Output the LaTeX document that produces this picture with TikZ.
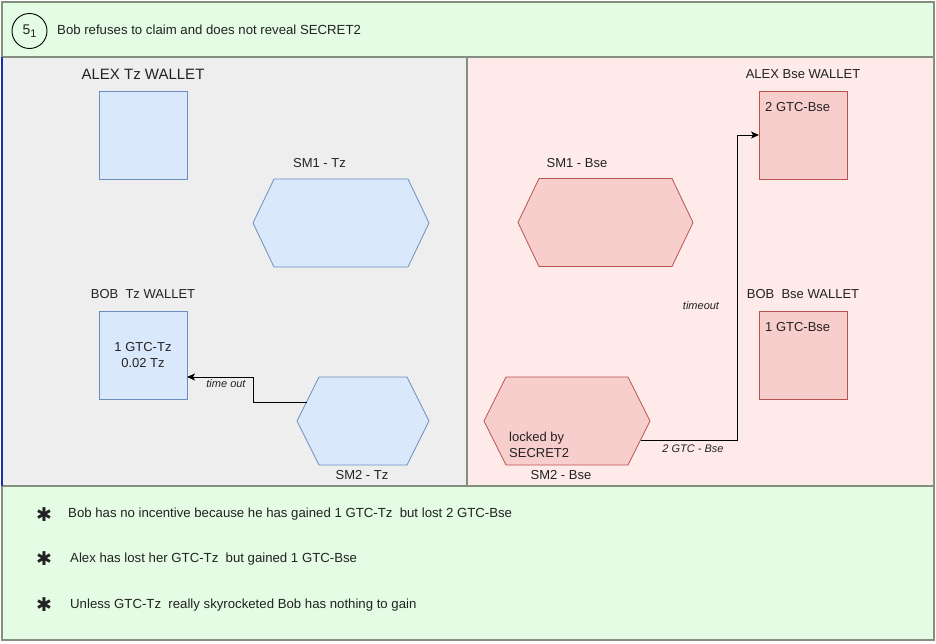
\documentclass[tikz,border=0pt]{standalone}
\usepackage{fontspec}
\setmainfont{Liberation Sans}
\newfontfamily\djv{DejaVu Sans}
\usetikzlibrary{arrows.meta,calc}
\definecolor{greenfill}{HTML}{E4FBE4}
\definecolor{greyfill}{HTML}{EEEEEE}
\definecolor{pinkfill}{HTML}{FFEAEA}
\definecolor{panelborder}{HTML}{858F80}
\definecolor{bluefill}{HTML}{DAE8FC}
\definecolor{bluestroke}{HTML}{6C8EBF}
\definecolor{redfill}{HTML}{F8CECC}
\definecolor{redstroke}{HTML}{B85450}
\definecolor{txt}{HTML}{222222}
\definecolor{edgeblue}{HTML}{1A2FB0}
\newcommand{\fs}[1]{\fontsize{#1}{16}\selectfont}
\newcommand{\hexdraw}[3]{%
  \draw[#3] (#1.west) -- ([xshift=#2pt]#1.north west) -- ([xshift=-#2pt]#1.north east)
    -- (#1.east) -- ([xshift=-#2pt]#1.south east) -- ([xshift=#2pt]#1.south west) -- cycle;}
\tikzset{
  panel/.style={draw=panelborder, line width=1.2pt, anchor=north west, inner sep=0, outer sep=0},
  bluebox/.style={draw=bluestroke, fill=bluefill, line width=0.8pt, minimum width=88pt, minimum height=88pt, inner sep=0, outer sep=0},
  redbox/.style={draw=redstroke, fill=redfill, line width=0.8pt, minimum width=88pt, minimum height=88pt, inner sep=0, outer sep=0},
  hexframe/.style={draw=none, inner sep=0, outer sep=0, minimum height=88pt},
  bluehex/.style={draw=bluestroke, fill=bluefill, line width=0.8pt},
  redhex/.style={draw=redstroke, fill=redfill, line width=0.8pt},
  lbl/.style={text=txt, inner sep=0, font=\fs{13}},
  edgelbl/.style={text=txt, inner sep=0, font=\fs{11}\itshape},
  bullet/.style={text=txt, inner sep=0, font=\djv\fs{19}},
  note/.style={text=txt, inner sep=0, anchor=west, font=\fs{13.2}},
  conn/.style={draw=black, line width=1pt, -{Stealth[length=8pt,width=7pt,inset=2pt]}}
}
\begin{document}
\begin{tikzpicture}[x=1pt,y=-1pt]
\useasboundingbox (0,0) rectangle (936,643);
\fill[white] (0,0) rectangle (936,643);
% panels
\node[panel, fill=greenfill, minimum width=932pt, minimum height=55pt] (top) at (2,2) {};
\node[panel, fill=greyfill, minimum width=465pt, minimum height=429pt] (left) at (2,57) {};
\node[panel, fill=pinkfill, minimum width=467pt, minimum height=429pt] (right) at (467,57) {};
\node[panel, fill=greenfill, minimum width=932pt, minimum height=154pt] (bottom) at (2,486) {};
\draw[edgeblue, line width=1.2pt] (left.north west) -- (left.south west);
% title
\node[circle, draw=black, line width=0.9pt, minimum size=35pt, inner sep=0, text=txt, font=\fs{14}] (num) at (29.5,31) {5{\fs{11}\raisebox{-3pt}{1}}};
\node[text=txt, inner sep=0, anchor=west, font=\fs{13.2}] (title) at (57,30) {Bob refuses to claim and does not reveal SECRET2};
% left side
\node[text=txt, inner sep=0, font=\fs{15}] (alextzlbl) at (143,74) {ALEX Tz WALLET};
\node[bluebox] (alextz) at (143,135) {};
\node[lbl] (sm1tlbl) at (319.5,163) {SM1 - Tz};
\node[hexframe, minimum width=176pt] (sm1t) at (341,223) {};
\hexdraw{sm1t}{21}{bluehex}
\node[lbl] (bobtzlbl) at (143,294) {BOB\ \ Tz WALLET};
\node[bluebox] (bobtz) at (143,355) {};
\node[lbl, align=center] (bobtztxt) at (143,355) {1 GTC-Tz\\0.02 Tz};
\node[hexframe, minimum width=132pt] (sm2t) at (363,421) {};
\hexdraw{sm2t}{22}{bluehex}
\node[lbl] (sm2tlbl) at (362,475) {SM2 - Tz};
\coordinate (sm2tout) at ($(sm2t.west)+(9.5,-19)$);
\coordinate (bobtzin) at ($(bobtz.east)+(0,22)$);
\draw[conn] (sm2tout) -- ++(-53.5,0) |- (bobtzin);
\node[edgelbl] (timeoutl) at (226,384) {time out};
% right side
\node[lbl] (alexbselbl) at (803,74) {ALEX Bse WALLET};
\node[redbox] (alexbse) at (803,135) {};
\node[lbl, anchor=west] (alexbsetxt) at (765,107) {2 GTC-Bse};
\node[lbl] (sm1blbl) at (577,163) {SM1 - Bse};
\node[hexframe, minimum width=175pt] (sm1b) at (605.5,222.5) {};
\hexdraw{sm1b}{21}{redhex}
\node[lbl] (bobbselbl) at (803,294) {BOB\ \ Bse WALLET};
\node[redbox] (bobbse) at (803,355) {};
\node[lbl, anchor=west] (bobbsetxt) at (765,327) {1 GTC-Bse};
\node[hexframe, minimum width=166pt] (sm2b) at (567,421) {};
\hexdraw{sm2b}{22}{redhex}
\node[lbl, anchor=west, align=left] (lockedtxt) at (509,445) {locked by\\SECRET2};
\node[lbl] (sm2blbl) at (561,475) {SM2 - Bse};
\coordinate (sm2bout) at ($(sm2b.east)+(-9.5,19)$);
\draw[conn] (sm2bout) -- ++(96.5,0) |- (alexbse.west);
\node[edgelbl] (timeoutr) at (701,306) {timeout};
\node[edgelbl] (gtcbse) at (693,449) {2 GTC - Bse};
% bottom notes
\node[bullet] (b1) at (44,515) {✱};
\node[note] (n1) at (68,514) {Bob has no incentive because he has gained 1 GTC-Tz\ \ but lost 2 GTC-Bse};
\node[bullet] (b2) at (44,559) {✱};
\node[note] (n2) at (70,559) {Alex has lost her GTC-Tz\ \ but gained 1 GTC-Bse};
\node[bullet] (b3) at (44,605) {✱};
\node[note] (n3) at (70,605) {Unless GTC-Tz\ \ really skyrocketed Bob has nothing to gain};
\end{tikzpicture}
\end{document}
